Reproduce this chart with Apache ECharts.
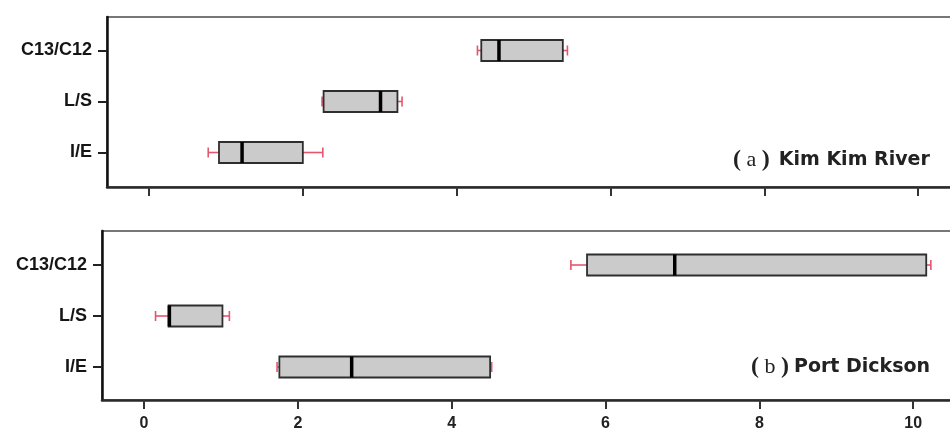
<!DOCTYPE html>
<html>
<head>
<meta charset="utf-8">
<script src="https://cdn.jsdelivr.net/npm/echarts@6/dist/echarts.min.js"></script>
<style>html,body{margin:0;padding:0;background:#fff;}#c{width:950px;height:432px;}</style>
</head>
<body>
<div id="c"></div>
<script>
// categories (bottom to top)
const categories = ['I/E', 'L/S', 'C13/C12'];
const xTickValues = [0, 2, 4, 6, 8, 10];

// (a) Kim Kim River
const kimMin    = [0.77, 2.25, 4.27];
const kimQ1     = [0.91, 2.27, 4.32];
const kimMedian = [1.21, 3.01, 4.55];
const kimQ3     = [2.00, 3.23, 5.38];
const kimMax    = [2.26, 3.29, 5.44];

// (b) Port Dickson
const pdMin    = [1.73, 0.15, 5.55];
const pdQ1     = [1.76, 0.32, 5.76];
const pdMedian = [2.70, 0.33, 6.90];
const pdQ3     = [4.50, 1.02, 10.17];
const pdMax    = [4.52, 1.11, 10.23];

const panelLetters = ['a', 'b'];
const panelNames = ['Kim Kim River', 'Port Dickson'];

const RED = '#e4566c';
const BOX_HALF = 10.5;
const CAP_HALF = 5;

function statRows(mn, q1, md, q3, mx) {
  return categories.map((c, i) => [i, mn[i], q1[i], md[i], q3[i], mx[i]]);
}

function renderBox(params, api) {
  const ci = api.value(0);
  const pMin = api.coord([api.value(1), ci]);
  const pQ1 = api.coord([api.value(2), ci]);
  const pMed = api.coord([api.value(3), ci]);
  const pQ3 = api.coord([api.value(4), ci]);
  const pMax = api.coord([api.value(5), ci]);
  const y = pMed[1];
  const redStyle = { stroke: RED, lineWidth: 1.6, fill: null };
  return {
    type: 'group',
    children: [
      { type: 'line', shape: { x1: pMin[0], y1: y, x2: pQ1[0], y2: y }, style: redStyle },
      { type: 'line', shape: { x1: pQ3[0], y1: y, x2: pMax[0], y2: y }, style: redStyle },
      { type: 'line', shape: { x1: pMin[0], y1: y - CAP_HALF, x2: pMin[0], y2: y + CAP_HALF }, style: redStyle },
      { type: 'line', shape: { x1: pMax[0], y1: y - CAP_HALF, x2: pMax[0], y2: y + CAP_HALF }, style: redStyle },
      { type: 'rect', shape: { x: pQ1[0], y: y - BOX_HALF, width: pQ3[0] - pQ1[0], height: BOX_HALF * 2 },
        style: { fill: '#cbcbcb', stroke: '#2e2e2e', lineWidth: 1.8 } },
      { type: 'line', shape: { x1: pMed[0], y1: y - BOX_HALF, x2: pMed[0], y2: y + BOX_HALF },
        style: { stroke: '#000', lineWidth: 3.5 } }
    ]
  };
}

function frameX(gi) {
  return { gridIndex: gi, type: 'value', min: 0, max: 1,
    axisLine: { show: true, lineStyle: { color: '#2a2a2a', width: 2.5 } },
    axisTick: { show: false }, axisLabel: { show: false }, splitLine: { show: false } };
}
function frameY(gi) {
  return { gridIndex: gi, type: 'value', min: 0, max: 1,
    axisLine: { show: true, lineStyle: { color: '#111', width: 2.5 } },
    axisTick: { show: false }, axisLabel: { show: false }, splitLine: { show: false } };
}
function hiddenX(gi) {
  return { gridIndex: gi, type: 'value', min: 0, max: 1, show: false };
}
function labelY(gi) {
  return { gridIndex: gi, type: 'category', data: categories,
    axisLine: { show: false },
    axisTick: { show: true, alignWithLabel: true, length: 9, lineStyle: { color: '#222', width: 2 } },
    axisLabel: { margin: 15, fontFamily: 'Liberation Sans', fontWeight: 'bold', fontSize: 18, color: '#151515' },
    splitLine: { show: false } };
}
function dataX(gi, offset, showLabels) {
  return { gridIndex: gi, type: 'value', min: 0, max: 12, interval: 2, offset: offset,
    axisLine: { show: false },
    axisTick: { show: true, length: 9, lineStyle: { color: '#333', width: 2 } },
    axisLabel: { show: showLabels, margin: 16, fontFamily: 'Liberation Sans', fontWeight: 'bold', fontSize: 16, color: '#222',
      formatter: v => xTickValues.indexOf(v) >= 0 ? String(v) : '' },
    splitLine: { show: false } };
}
function dataY(gi) {
  return { gridIndex: gi, type: 'category', data: categories, show: false };
}

function titleText(x, y, letter, name, gap) {
  return { type: 'text', x: x, y: y, style: {
    text: '{p|(}{l| ' + letter + ' }{p|)}{n|' + name + '}',
    align: 'left', verticalAlign: 'middle',
    rich: {
      p: { fontFamily: 'Liberation Serif', fontWeight: 'bold', fontSize: 24, fill: '#222', color: '#222' },
      l: { fontFamily: 'Liberation Serif', fontSize: 22, fill: '#222', color: '#222' },
      n: { fontFamily: 'DejaVu Sans', fontWeight: 'bold', fontSize: 19, fill: '#222', color: '#222', padding: [0, 0, 0, gap] }
    }
  } };
}

const chart = echarts.init(document.getElementById('c'), null, { renderer: 'canvas' });
chart.setOption({
  animation: false,
  backgroundColor: '#fff',
  grid: [
    // top panel: frame, label, data
    { left: 107, top: 17, width: 860, height: 170, show: true, borderColor: '#777', borderWidth: 2, backgroundColor: 'transparent', outerBoundsMode: 'none' },
    { left: 107, top: 25, width: 843, height: 153, outerBoundsMode: 'none' },
    { left: 149, top: 25, width: 923, height: 153, outerBoundsMode: 'none' },
    // bottom panel: frame, label, data
    { left: 102, top: 231, width: 865, height: 169, show: true, borderColor: '#777', borderWidth: 2, backgroundColor: 'transparent', outerBoundsMode: 'none' },
    { left: 102, top: 239.5, width: 848, height: 153, outerBoundsMode: 'none' },
    { left: 144, top: 239.5, width: 923, height: 153, outerBoundsMode: 'none' }
  ],
  xAxis: [frameX(0), hiddenX(1), dataX(2, 9, false), frameX(3), hiddenX(4), dataX(5, 7.5, true)],
  yAxis: [frameY(0), labelY(1), dataY(2), frameY(3), labelY(4), dataY(5)],
  series: [
    { type: 'custom', xAxisIndex: 2, yAxisIndex: 2, renderItem: renderBox,
      encode: { x: [1, 2, 3, 4, 5], y: 0 }, data: statRows(kimMin, kimQ1, kimMedian, kimQ3, kimMax) },
    { type: 'custom', xAxisIndex: 5, yAxisIndex: 5, renderItem: renderBox,
      encode: { x: [1, 2, 3, 4, 5], y: 0 }, data: statRows(pdMin, pdQ1, pdMedian, pdQ3, pdMax) }
  ],
  graphic: [
    titleText(733, 160, panelLetters[0], panelNames[0], 9),
    titleText(751, 367, panelLetters[1], panelNames[1], 5)
  ]
});
</script>
</body>
</html>
